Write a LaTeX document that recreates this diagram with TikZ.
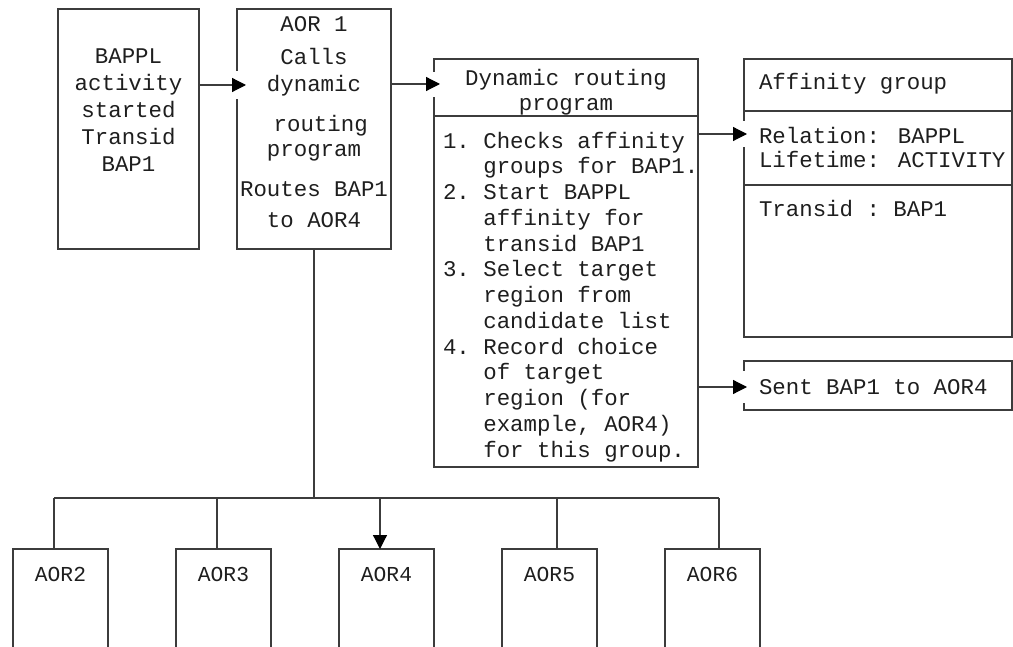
\documentclass[tikz,border=0pt]{standalone}
\usepackage{fontspec}
\setmainfont{Liberation Mono}
\usetikzlibrary{arrows.meta}
\definecolor{linec}{RGB}{60,60,60}
\definecolor{textc}{RGB}{30,30,30}
\begin{document}
\begin{tikzpicture}[x=1pt,y=-1pt,
  box/.style={draw=linec, line width=1.2pt, inner sep=0pt, outer sep=0pt},
  conn/.style={draw=linec, line width=1.2pt},
  arr/.style={draw=linec, line width=1.2pt, -{Triangle[length=14pt,width=14pt,color=black]}},
  gap/.style={draw=white, line width=5pt},
  txt/.style={inner sep=0pt, outer sep=0pt, text=textc, font=\fontsize{22.4}{25.75}\selectfont\frenchspacing},
  aortxt/.style={inner sep=0pt, outer sep=0pt, text=textc, anchor=base, font=\fontsize{21.3}{25}\selectfont}]
\useasboundingbox (0,0) rectangle (1013,647);
\clip (0,0) rectangle (1013,647);
% boxes
\node[box, minimum width=141pt, minimum height=240pt] (bappl) at (128.5,129) {};
\node[box, minimum width=154pt, minimum height=240pt] (aor1) at (314,129) {};
\node[box, minimum width=264pt, minimum height=408pt] (dyn) at (566,263) {};
\node[box, minimum width=268pt, minimum height=278pt] (aff) at (878,198) {};
\node[box, minimum width=268pt, minimum height=49pt] (sent) at (878,385.5) {};
\node[box, minimum width=95pt, minimum height=120pt] (aor2) at (60.5,609) {};
\node[box, minimum width=95pt, minimum height=120pt] (aor3) at (223.5,609) {};
\node[box, minimum width=95pt, minimum height=120pt] (aor4) at (386.5,609) {};
\node[box, minimum width=95pt, minimum height=120pt] (aor5) at (549.5,609) {};
\node[box, minimum width=95pt, minimum height=120pt] (aor6) at (712.5,609) {};
% dividers
\draw[conn] (dyn.west |- 0,116) -- (dyn.east |- 0,116);
\draw[conn] (aff.west |- 0,111) -- (aff.east |- 0,111);
\draw[conn] (aff.west |- 0,185) -- (aff.east |- 0,185);
% texts
\node[txt, anchor=north, align=center, font=\fontsize{22.4}{27}\selectfont] (tbappl) at (128.5,49)
  {BAPPL\\activity\\started\\Transid\\BAP1};
\node[txt, anchor=north, align=center, font=\fontsize{22.4}{27}\selectfont] (taor1) at (314,17)
  {AOR 1\\[6pt]Calls\\dynamic\\[13pt]\hphantom{x}routing\\[-2pt]program\\[13pt]Routes BAP1\\[4pt]to AOR4};
\node[txt, anchor=north, align=center, font=\fontsize{22.4}{25}\selectfont] (tdynh) at (566,69.5)
  {Dynamic routing\\program};
\node[txt, anchor=north west, align=left] (tdyn) at (443,132)
  {1. Checks affinity\\
   \hphantom{1. }groups for BAP1.\\
   2. Start BAPPL\\
   \hphantom{1. }affinity for\\
   \hphantom{1. }transid BAP1\\
   3. Select target\\
   \hphantom{1. }region from\\
   \hphantom{1. }candidate list\\
   4. Record choice\\
   \hphantom{1. }of target\\
   \hphantom{1. }region (for\\
   \hphantom{1. }example, AOR4)\\
   \hphantom{1. }for this group.};
\node[txt, anchor=base west] (taffh) at (759,90) {Affinity group};
\node[txt, anchor=north west, align=left, font=\fontsize{22.4}{24}\selectfont] (taffr) at (759,127)
  {Relation: BAPPL\\Lifetime: ACTIVITY};
\node[txt, anchor=base west] (tafft) at (759,217) {Transid : BAP1};
\node[txt, anchor=base west] (tsent) at (759,395) {Sent BAP1 to AOR4};
\node[aortxt] (t2) at (60.5,581) {AOR2};
\node[aortxt] (t3) at (223.5,581) {AOR3};
\node[aortxt] (t4) at (386.5,581) {AOR4};
\node[aortxt] (t5) at (549.5,581) {AOR5};
\node[aortxt] (t6) at (712.5,581) {AOR6};
% gaps in borders where arrows enter
\draw[gap] (aor1.west |- 0,71) -- (aor1.west |- 0,99);
\draw[gap] (dyn.west |- 0,72) -- (dyn.west |- 0,97);
\draw[gap] (aff.west |- 0,121) -- (aff.west |- 0,147);
\draw[gap] (sent.west |- 0,371) -- (sent.west |- 0,403);
% arrows
\draw[arr, shorten >=-9pt] (bappl.east |- 0,85) -- (aor1.west |- 0,85);
\draw[arr, shorten >=-6pt] (aor1.east |- 0,84) -- (dyn.west |- 0,84);
\draw[arr, shorten >=-3pt] (dyn.east |- 0,134) -- (aff.west |- 0,134);
\draw[arr, shorten >=-3pt] (dyn.east |- 0,387) -- (sent.west |- 0,387);
% bus to AORs
\coordinate (bus) at (aor1.south |- 0,498);
\coordinate (b2) at (54,498);
\coordinate (b3) at (217,498);
\coordinate (b4) at (380,498);
\coordinate (b5) at (557,498);
\coordinate (b6) at (719,498);
\draw[conn] (aor1.south) -- (bus);
\draw[conn] (b2) -- (b6);
\draw[conn] (b2) -- (b2 |- aor2.north);
\draw[conn] (b3) -- (b3 |- aor3.north);
\draw[arr] (b4) -- (b4 |- aor4.north);
\draw[conn] (b5) -- (b5 |- aor5.north);
\draw[conn] (b6) -- (b6 |- aor6.north);
\end{tikzpicture}
\end{document}
